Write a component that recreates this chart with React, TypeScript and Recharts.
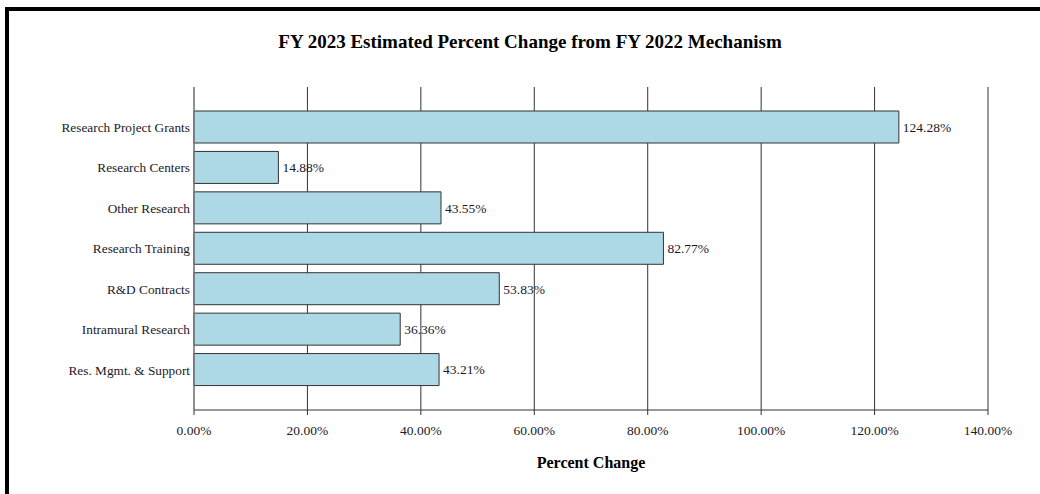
import { Bar, BarChart, CartesianGrid, LabelList, XAxis, YAxis } from 'recharts'

const mechanisms = [
  'Research Project Grants',
  'Research Centers',
  'Other Research',
  'Research Training',
  'R&D Contracts',
  'Intramural Research',
  'Res. Mgmt. & Support',
]

const pctChange = [124.28, 14.88, 43.55, 82.77, 53.83, 36.36, 43.21]

const xTicks = [0, 20, 40, 60, 80, 100, 120, 140]

const data = mechanisms.map((name, i) => ({ name, value: pctChange[i] }))

const serif = '"Liberation Serif", "Times New Roman", serif'
const fmt = (v: number) => v.toFixed(2) + '%'

export default function App() {
  return (
    <div style={{ position: 'absolute', left: 0, top: 0, width: 1040, height: 494, background: '#fff', overflow: 'hidden' }}>
      <div
        style={{
          position: 'absolute',
          left: 5,
          top: 7,
          width: 1040,
          height: 494,
          borderLeft: '4px solid #000',
          borderTop: '4px solid #000',
        }}
      />
      <div
        style={{
          position: 'absolute',
          left: 530,
          top: 31,
          transform: 'translateX(-50%)',
          whiteSpace: 'nowrap',
          fontFamily: serif,
          fontWeight: 'bold',
          fontSize: 19,
          lineHeight: '22px',
          color: '#000',
        }}
      >
        FY 2023 Estimated Percent Change from FY 2022 Mechanism
      </div>
      <div style={{ position: 'absolute', left: 0, top: 0 }}>
        <BarChart
          width={1040}
          height={494}
          data={data}
          layout="vertical"
          margin={{ top: 87, right: 52, left: 0, bottom: 22 }}
        >
          <CartesianGrid horizontal={false} stroke="#333" strokeOpacity={1} />
          <XAxis
            type="number"
            domain={[0, 140]}
            ticks={xTicks}
            tickFormatter={fmt}
            height={62}
            tickSize={5}
            tickMargin={10}
            axisLine={{ stroke: '#333' }}
            tickLine={{ stroke: '#333' }}
            tick={{ fontFamily: serif, fontSize: 13.5, fill: '#1a1a2a' }}
            label={{
              value: 'Percent Change',
              position: 'insideBottom',
              offset: 4,
              style: { fontFamily: serif, fontSize: 16, fontWeight: 'bold', fill: '#000' },
            }}
          />
          <YAxis
            type="category"
            dataKey="name"
            width={194}
            padding={{ top: 20, bottom: 20 }}
            tickLine={false}
            tickSize={4}
            tickMargin={0}
            axisLine={{ stroke: '#888' }}
            tick={{ fontFamily: serif, fontSize: 13.3, fill: '#1a1a2a' }}
          />
          <Bar dataKey="value" fill="#ADD8E6" stroke="#333" strokeWidth={1} barSize={32} isAnimationActive={false}>
            <LabelList
              dataKey="value"
              position="right"
              offset={4}
              formatter={(v: any) => fmt(Number(v))}
              style={{ fontFamily: serif, fontSize: 13.5, fill: '#1a1a2a' }}
            />
          </Bar>
        </BarChart>
      </div>
    </div>
  )
}
